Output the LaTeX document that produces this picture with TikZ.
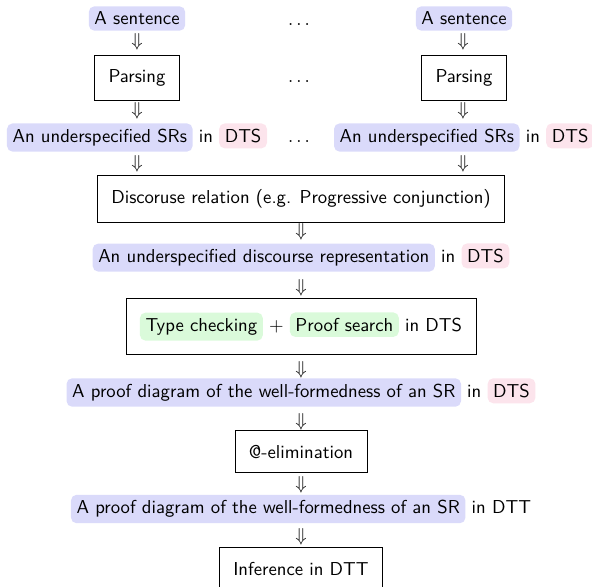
\documentclass[tikz,border=0pt]{standalone}
\usetikzlibrary{positioning}
\definecolor{srblue}{RGB}{218,218,250}
\definecolor{dtspink}{RGB}{252,228,236}
\definecolor{okgreen}{RGB}{218,250,218}
\begin{document}
\begin{tikzpicture}[x=0.5348pt,y=-0.5348pt,font=\sffamily,
	hl/.style={fill=srblue,rounded corners=3pt,inner sep=3pt},
	dts/.style={fill=dtspink,rounded corners=3pt,inner sep=3pt},
	ok/.style={fill=okgreen,rounded corners=3pt,inner sep=3pt},
	word/.style={inner sep=0pt,anchor=base},
	proc/.style={draw,inner sep=7.5pt},
	row/.style={column sep=3.33pt,nodes={anchor=base}},
	down/.style={inner sep=0pt}]
	\useasboundingbox (0,0) rectangle (592,586);
	% Sentences
	\node[hl] (sentL) at (137,18.5) {A sentence};
	\node[hl] (sentR) at (464,18.5) {A sentence};
	\node[proc] (parseL) at (137,77.5) {Parsing};
	\node[proc] (parseR) at (464,77.5) {Parsing};
	\matrix (srL) [row] at (137,137.5) {
		\node[hl] (srLbox) {An underspecified SRs}; & \node[word] (srLin) {in}; & \node[dts] (srLdts) {DTS}; \\
	};
	\matrix (srR) [row] at (464,137.5) {
		\node[hl] (srRbox) {An underspecified SRs}; & \node[word] (srRin) {in}; & \node[dts] (srRdts) {DTS}; \\
	};
	\node[word] (dotsA) at (299,25) {$\ldots$};
	\node[word] (dotsB) at (299,82.2) {$\ldots$};
	\node[word] (dotsC) at (299,142.3) {$\ldots$};
	% Discourse
	\node[proc] (disc) at (301,198.5) {Discoruse relation (e.g. Progressive conjunction)};
	\matrix (drs) [row] at (301,257.5) {
		\node[hl] (drsbox) {An underspecified discourse representation}; & \node[word] (drsin) {in}; & \node[dts] (drsdts) {DTS}; \\
	};
	\matrix (check) [row,proc] at (301,326.5) {
		\node[ok] (tc) {Type checking}; & \node[word] (plus) {$+$}; & \node[ok] (ps) {Proof search}; & \node[word] (tcin) {in DTS}; \\
	};
	% Proof diagrams
	\matrix (pdts) [row] at (301,392.5) {
		\node[hl] (pdtsbox) {A proof diagram of the well-formedness of an SR}; & \node[word] (pdtsin) {in}; & \node[dts] (pdtsdts) {DTS}; \\
	};
	\node[proc] (elim) at (301,451.5) {@-elimination};
	\matrix (pdtt) [row] at (301,509) {
		\node[hl] (pdttbox) {A proof diagram of the well-formedness of an SR}; & \node[word] (pdttin) {in DTT}; \\
	};
	\node[proc] (infer) at (301,568.5) {Inference in DTT};
	% Arrows
	\foreach \x/\y [count=\i] in {137/42,137/111,137/164,463/42,463/111,463/164,301/232,301/288,301/370,301/422,301/485,301/537}
		\node[down] (dn\i) at (\x,\y) {$\Downarrow$};
\end{tikzpicture}
\end{document}
